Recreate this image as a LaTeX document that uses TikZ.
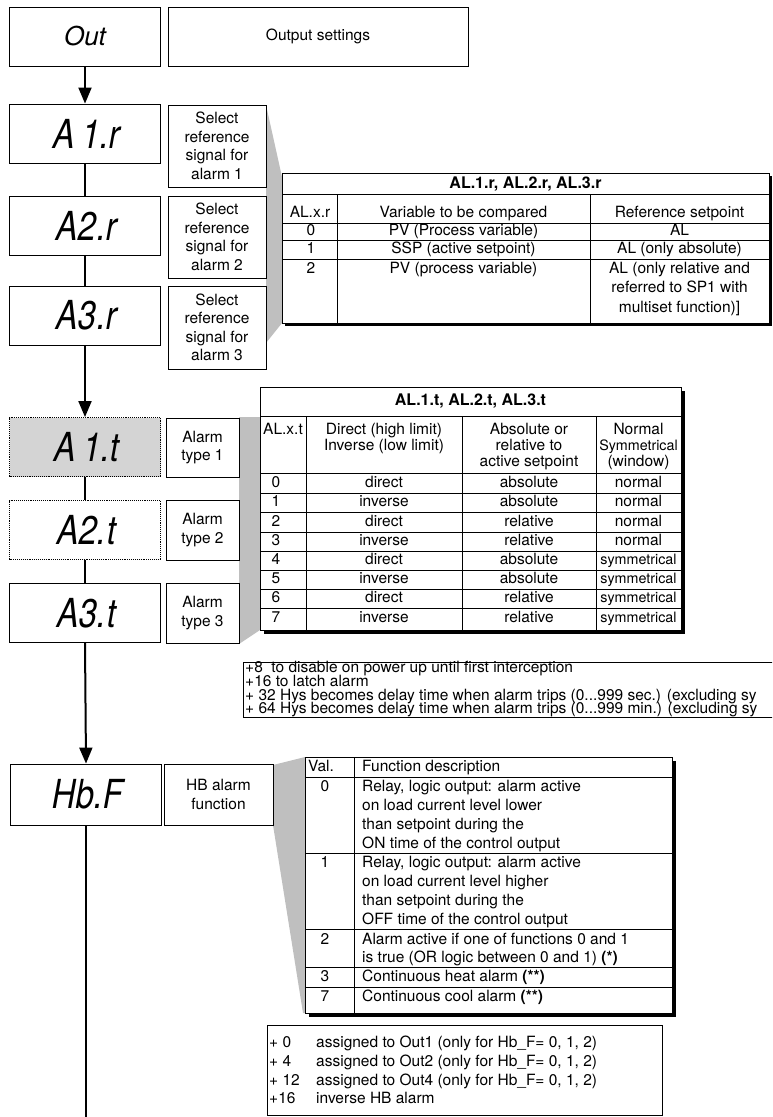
\documentclass[tikz,border=0pt]{standalone}
\usepackage{fontspec}
\setmainfont{TeX Gyre Heros}
\newfontfamily\segfont[FakeSlant=0.18,FakeStretch=0.82]{TeX Gyre Heros}
\usetikzlibrary{arrows.meta}
\tikzset{
  segbox/.style={draw, line width=0.9pt, inner sep=0pt, minimum width=151pt, minimum height=59pt,
    font=\segfont\fontsize{40}{40}\selectfont},
  lblbox/.style={draw, line width=0.9pt, fill=white, inner sep=0pt, align=center,
    font=\fontsize{15.5}{18.5}\selectfont},
  txt/.style={inner sep=0pt, font=\fontsize{15.5}{18}\selectfont, text height=11.5pt, text depth=3.5pt},
  txtb/.style={txt, font=\fontsize{16}{18}\selectfont\bfseries},
  txtl/.style={txt, anchor=west},
  txts/.style={txt, font=\fontsize{14.3}{17}\selectfont},
  conn/.style={line width=2pt},
  arr/.style={line width=2pt, -{Triangle[width=13pt,length=16pt]}},
  tline/.style={line width=0.8pt},
  wedge/.style={fill=black!25},
  shadow/.style={fill=black},
}
\begin{document}
\begin{tikzpicture}[x=1pt,y=-1pt]
\path[use as bounding box] (0,0) rectangle (772,1117);
\clip (0,0) rectangle (772,1117);

% ---------- grey callout wedges ----------
\fill[wedge] (266,105) -- (282,177) -- (282,323) -- (266,343) -- cycle;
\fill[wedge] (239,417) -- (260,417) -- (260,630) -- (239,644) -- cycle;
\fill[wedge] (273,765) -- (305,757) -- (305,1013) -- (303,1013) -- (273,825) -- cycle;

% ---------- left column ----------
\node[segbox, font=\fontsize{26}{26}\selectfont\itshape] (out) at (85,36.5) {Out};
\node[lblbox, minimum width=300pt, minimum height=59pt] (outl) at (318,36.5) {Output settings};

\node[segbox] (a1r) at (85,133.5) {A\,1.r};
\node[segbox] (a2r) at (85,226) {A2.r};
\node[segbox] (a3r) at (85,315.5) {A3.r};
\node[lblbox, minimum width=98pt, minimum height=82pt] (l1r) at (217,146) {Select\\reference\\signal for\\alarm 1};
\node[lblbox, minimum width=98pt, minimum height=82pt] (l2r) at (217,237) {Select\\reference\\signal for\\alarm 2};
\node[lblbox, minimum width=98pt, minimum height=83pt] (l3r) at (217,327.5) {Select\\reference\\signal for\\alarm 3};

\node[segbox, fill=black!17, densely dotted] (a1t) at (85,447) {A\,1.t};
\node[segbox, densely dotted] (a2t) at (85,530) {A2.t};
\node[segbox] (a3t) at (85,613) {A3.t};
\node[lblbox, minimum width=73pt, minimum height=59pt] (l1t) at (202.5,447.5) {Alarm\\type 1};
\node[lblbox, minimum width=73pt, minimum height=60pt] (l2t) at (202.5,530) {Alarm\\type 2};
\node[lblbox, minimum width=73pt, minimum height=60pt] (l3t) at (202.5,613) {Alarm\\type 3};

\node[segbox, minimum height=61pt] (hbf) at (86,794.5) {Hb.F};
\node[lblbox, minimum width=109pt, minimum height=61pt] (lhb) at (218.5,794.5) {HB alarm\\function};
\coordinate (hbend) at (86,1130);

\draw[arr] (out.south) -- (a1r.north);
\draw[conn] (a1r.south) -- (a2r.north);
\draw[conn] (a2r.south) -- (a3r.north);
\draw[arr] (a3r.south) -- (a1t.north);
\draw[conn] (a1t.south) -- (a2t.north);
\draw[conn] (a2t.south) -- (a3t.north);
\draw[arr] (a3t.south) -- (hbf.north);
\draw[conn] (hbf.south) -- (hbend);

% ---------- table AL.x.r ----------
\fill[shadow] (285,176) rectangle (772,326);
\draw[tline, fill=white] (282,173) rectangle (769,323);
\draw[tline] (282,194) -- (769,194) (282,223) -- (769,223) (282,240) -- (769,240) (282,259) -- (769,259)
  (337,194) -- (337,323) (590,194) -- (590,323);
\node[txtb] (t1t) at (525.5,184) {AL.1.r, AL.2.r, AL.3.r};
\node[txt] (t1h1) at (310,213) {AL.x.r};
\node[txt] (t1h2) at (463.5,213) {Variable to be compared};
\node[txt] (t1h3) at (679.5,213) {Reference setpoint};
\node[txt] (t1a1) at (311,231.5) {0};
\node[txt] (t1a2) at (463.5,231.5) {PV (Process variable)};
\node[txt] (t1a3) at (679.5,231.5) {AL};
\node[txt] (t1b1) at (311,249.5) {1};
\node[txt] (t1b2) at (463.5,249.5) {SSP (active setpoint)};
\node[txt] (t1b3) at (679.5,249.5) {AL (only absolute)};
\node[txt] (t1c1) at (311,269) {2};
\node[txt] (t1c2) at (463.5,269) {PV (process variable)};
\node[txt] (t1c3) at (679.5,269) {AL (only relative and};
\node[txt] (t1c4) at (679.5,288.5) {referred to SP1 with};
\node[txt] (t1c5) at (679.5,308) {multiset function)]};

% ---------- table AL.x.t ----------
\fill[shadow] (264,391) rectangle (685,634);
\draw[tline, fill=white] (260,387) rectangle (681,630);
\draw[tline] (260,416) -- (681,416) (260,473) -- (681,473);
\foreach \yy in {493,512,532,551,570,589,608} \draw[tline] (260,\yy) -- (681,\yy);
\draw[tline] (306,416) -- (306,630) (462,416) -- (462,630) (596,416) -- (596,630);
\node[txtb] (t2t) at (470.5,401.5) {AL.1.t, AL.2.t, AL.3.t};
\node[txt] (t2h1) at (283,430) {AL.x.t};
\node[txt] (t2h2) at (384,430) {Direct (high limit)};
\node[txt] (t2h3) at (384,446) {Inverse (low limit)};
\node[txt] (t2h4) at (529,430) {Absolute or};
\node[txt] (t2h5) at (529,446) {relative to};
\node[txt] (t2h6) at (529,462) {active setpoint};
\node[txt] (t2h7) at (638.5,430) {Normal};
\node[txts] (t2h8) at (638.5,446) {Symmetrical};
\node[txt] (t2h9) at (638.5,462) {(window)};
\foreach \v/\yy/\dd/\aa/\nn/\st in {0/483/direct/absolute/normal/txt, 1/502.5/inverse/absolute/normal/txt,
   2/522/direct/relative/normal/txt, 3/541.5/inverse/relative/normal/txt,
   4/560.5/direct/absolute/symmetrical/txts, 5/579.5/inverse/absolute/symmetrical/txts,
   6/598.5/direct/relative/symmetrical/txts, 7/618/inverse/relative/symmetrical/txts}{
  \node[txt] (t2r\v a) at (276,\yy) {\v};
  \node[txt] (t2r\v b) at (384,\yy) {\dd};
  \node[txt] (t2r\v c) at (529,\yy) {\aa};
  \node[\st] (t2r\v d) at (638.5,\yy) {\nn};
}

% ---------- notes 1 ----------
\draw[tline] (243,662) rectangle (800,717);
\node[txtl] (n1a) at (245,668.5) {+8\ \ to disable on power up until first interception};
\node[txtl] (n1b) at (245,682) {+16 to latch alarm};
\node[txtl] (n1c) at (245,696) {+ 32 Hys becomes delay time when alarm trips (0...999 sec.) (excluding sy};
\node[txtl] (n1d) at (245,709.5) {+ 64 Hys becomes delay time when alarm trips (0...999 min.) (excluding sy};

% ---------- table HB ----------
\fill[shadow] (309,761) rectangle (676,1017);
\draw[tline, fill=white] (305,757) rectangle (672,1013);
\foreach \yy in {777,853,929,967,987} \draw[tline] (305,\yy) -- (672,\yy);
\draw[tline] (354,757) -- (354,1013);
\node[txtl] (h0a) at (308,767) {Val.};
\node[txtl] (h0b) at (362,767) {Function description};
\node[txt] (h1a) at (325,787) {0};
\node[txtl] (h1b) at (362,787) {Relay, logic output: alarm active};
\node[txtl] (h1c) at (362,806) {on load current level lower};
\node[txtl] (h1d) at (362,825) {than setpoint during the};
\node[txtl] (h1e) at (362,844) {ON time of the control output};
\node[txt] (h2a) at (325,863) {1};
\node[txtl] (h2b) at (362,863) {Relay, logic output: alarm active};
\node[txtl] (h2c) at (362,882) {on load current level higher};
\node[txtl] (h2d) at (362,901) {than setpoint during the};
\node[txtl] (h2e) at (362,920) {OFF time of the control output};
\node[txt] (h3a) at (325,940) {2};
\node[txtl] (h3b) at (362,940) {Alarm active if one of functions 0 and 1};
\node[txtl] (h3c) at (362,958) {is true (OR logic between 0 and 1) \textbf{(*)}};
\node[txt] (h4a) at (325,977) {3};
\node[txtl] (h4b) at (362,977) {Continuous heat alarm \textbf{(**)}};
\node[txt] (h5a) at (325,997) {7};
\node[txtl] (h5b) at (362,997) {Continuous cool alarm \textbf{(**)}};

% ---------- notes 2 ----------
\draw[tline] (267,1025) rectangle (662,1115);
\node[txtl] (n2a) at (269,1043) {+ 0};
\node[txtl] (n2b) at (316,1043) {assigned to Out1 (only for Hb\_F= 0, 1, 2)};
\node[txtl] (n2c) at (269,1062) {+ 4};
\node[txtl] (n2d) at (316,1062) {assigned to Out2 (only for Hb\_F= 0, 1, 2)};
\node[txtl] (n2e) at (269,1081) {+ 12};
\node[txtl] (n2f) at (316,1081) {assigned to Out4 (only for Hb\_F= 0, 1, 2)};
\node[txtl] (n2g) at (269,1099) {+16};
\node[txtl] (n2h) at (316,1099) {inverse HB alarm};
\end{tikzpicture}
\end{document}
